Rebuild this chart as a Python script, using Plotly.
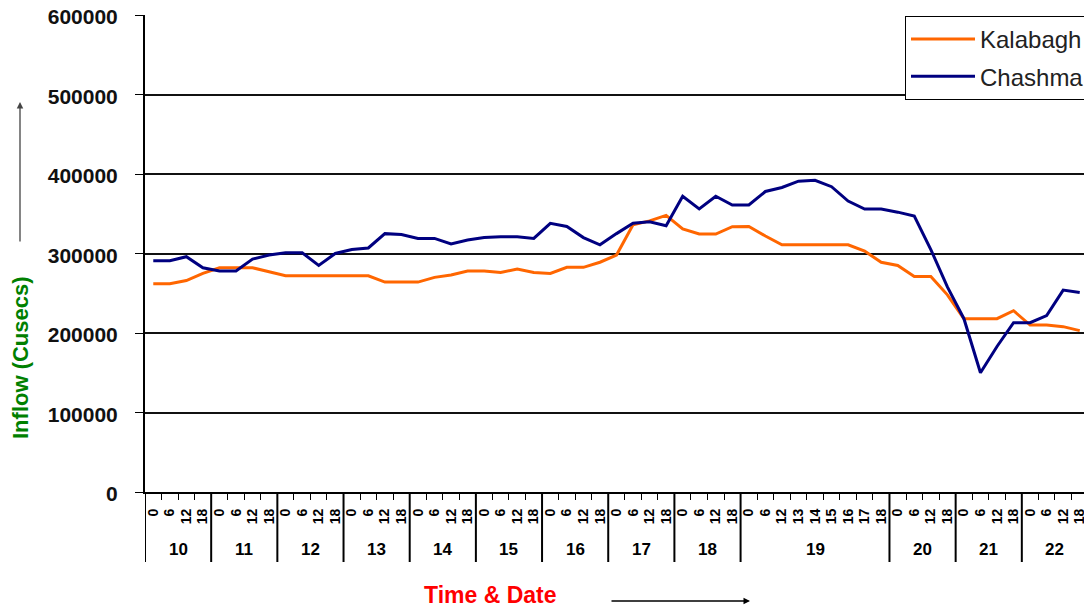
import plotly.graph_objects as go

day_names = ["10", "11", "12", "13", "14", "15", "16", "17", "18", "19", "20", "21", "22"]
day_hours = [["0", "6", "12", "18"]]*9 + [["0", "6", "12", "13", "14", "15", "16", "17", "18"]] + [["0", "6", "12", "18"]]*3

kalabagh = [262000, 262000, 266000, 275000, 282000, 282000, 282000, 277000, 272000, 272000,
            272000, 272000, 272000, 272000, 264000, 264000, 264000, 270000, 273000, 278000,
            278000, 276000, 280500, 276000, 275000, 282600, 282600, 289000, 298000, 336000,
            341000, 348000, 331000, 324500, 324500, 333700, 334000, 322000, 311000, 311000,
            311000, 311000, 311000, 303000, 289000, 285000, 271000, 271000, 248000, 218000,
            218000, 218000, 228000, 210000, 210000, 208000, 203000]
chashma = [291000, 291000, 296000, 282000, 278000, 278000, 293000, 298000, 301000, 301000,
           285000, 300000, 305000, 307000, 325000, 324000, 319000, 319000, 312000, 317000,
           320000, 321000, 321000, 319000, 338000, 334000, 320000, 311000, 325000, 338000,
           340000, 335000, 372000, 356000, 372000, 361000, 361000, 378000, 383000, 391000,
           392000, 384000, 366000, 356000, 356000, 352000, 347000, 305000, 258000, 218000,
           150000, 183000, 213000, 213000, 222000, 254000, 251000]

# build category positions from the day/hour lists
hours = [h for hs in day_hours for h in hs]
xpos = list(range(len(hours)))
group_start = []
s = 0
for hs in day_hours:
    group_start.append(s)
    s += len(hs)
n = len(hours)

FONT = "Arial, Liberation Sans"

fig = go.Figure()
fig.add_trace(go.Scatter(x=xpos, y=kalabagh, mode="lines", name="Kalabagh", legendgroup="k",
                         line=dict(color="#FF6600", width=3)))
fig.add_trace(go.Scatter(x=xpos, y=chashma, mode="lines", name="Chashma", legendgroup="c",
                         line=dict(color="#000080", width=3)))

W = 943.0
H = 477.0
def px(x):
    return (x - 145) / W
def py(y):
    return (492 - y) / H

# the page places the figure 8px from the top-left corner
fig.update_layout(
    width=1084, height=604,
    margin=dict(l=137, r=4, t=7, b=120, autoexpand=False),
    paper_bgcolor="white", plot_bgcolor="white",
    showlegend=True,
    legend=dict(x=px(1090), y=py(16), xanchor="right", yanchor="top",
                bordercolor="black", borderwidth=1, bgcolor="white",
                font=dict(family=FONT, size=24, color="#222"),
                itemwidth=64, tracegroupgap=3),
    font=dict(family=FONT, color="black"),
)
fig.update_yaxes(range=[0, 600000], dtick=100000, tick0=0, tickformat="d",
                 showgrid=True, gridcolor="#111", gridwidth=1.5,
                 showline=True, linecolor="black", linewidth=2,
                 ticks="outside", ticklen=8, tickcolor="black", ticklabelstandoff=13,
                 ticklabelshift=2,
                 ticklabeloverflow="allow", automargin=False,
                 tickfont=dict(family=FONT, size=21, weight="bold", color="#111"),
                 zeroline=False)
fig.update_xaxes(range=[-0.5, n - 0.5], showline=True, linecolor="black", linewidth=2,
                 tickmode="array", tickvals=xpos, ticktext=hours, tickangle=-90,
                 ticks="outside", ticklen=6, tickcolor="rgba(0,0,0,0)", ticklabelstandoff=3,
                 automargin=False,
                 minor=dict(tickmode="array", tickvals=[i - 0.5 for i in range(n + 1)],
                            ticks="outside", ticklen=6, tickcolor="black", showgrid=False),
                 tickfont=dict(family=FONT, size=14, weight="bold", color="black"),
                 showgrid=False, zeroline=False)

# day labels and dividers
bounds = group_start + [n]
for i, d in enumerate(day_names):
    a, b = bounds[i], bounds[i + 1]
    fig.add_annotation(x=(a + b - 1) / 2, y=py(549), xref="x", yref="paper", text="<b>%s</b>" % d,
                       showarrow=False, xanchor="center", yanchor="middle",
                       font=dict(family=FONT, size=17, color="black"))
for bd in bounds:
    fig.add_shape(type="line", xref="x", yref="paper", x0=bd - 0.5, x1=bd - 0.5, y0=0, y1=py(562),
                  line=dict(color="black", width=2))

fig.add_annotation(x=px(20), y=py(358), xref="paper", yref="paper", text="<b>Inflow (Cusecs)</b>",
                   textangle=-90, showarrow=False, xanchor="center", yanchor="middle",
                   font=dict(size=22, color="#008000", family=FONT))
fig.add_annotation(x=px(20), y=py(102), xref="paper", yref="paper", text="", showarrow=True,
                   ax=0, ay=141, arrowhead=2, arrowsize=1, arrowwidth=1.3, arrowcolor="#444")
fig.add_annotation(x=px(490), y=py(595), xref="paper", yref="paper", text="<b>Time & Date</b>",
                   showarrow=False, xanchor="center", yanchor="middle",
                   font=dict(size=23, color="red", family=FONT))
fig.add_annotation(x=px(750), y=py(601), xref="paper", yref="paper", text="", showarrow=True,
                   ax=-140, ay=0, arrowhead=2, arrowsize=1, arrowwidth=1.3, arrowcolor="black")

fig.write_html("out.html")
